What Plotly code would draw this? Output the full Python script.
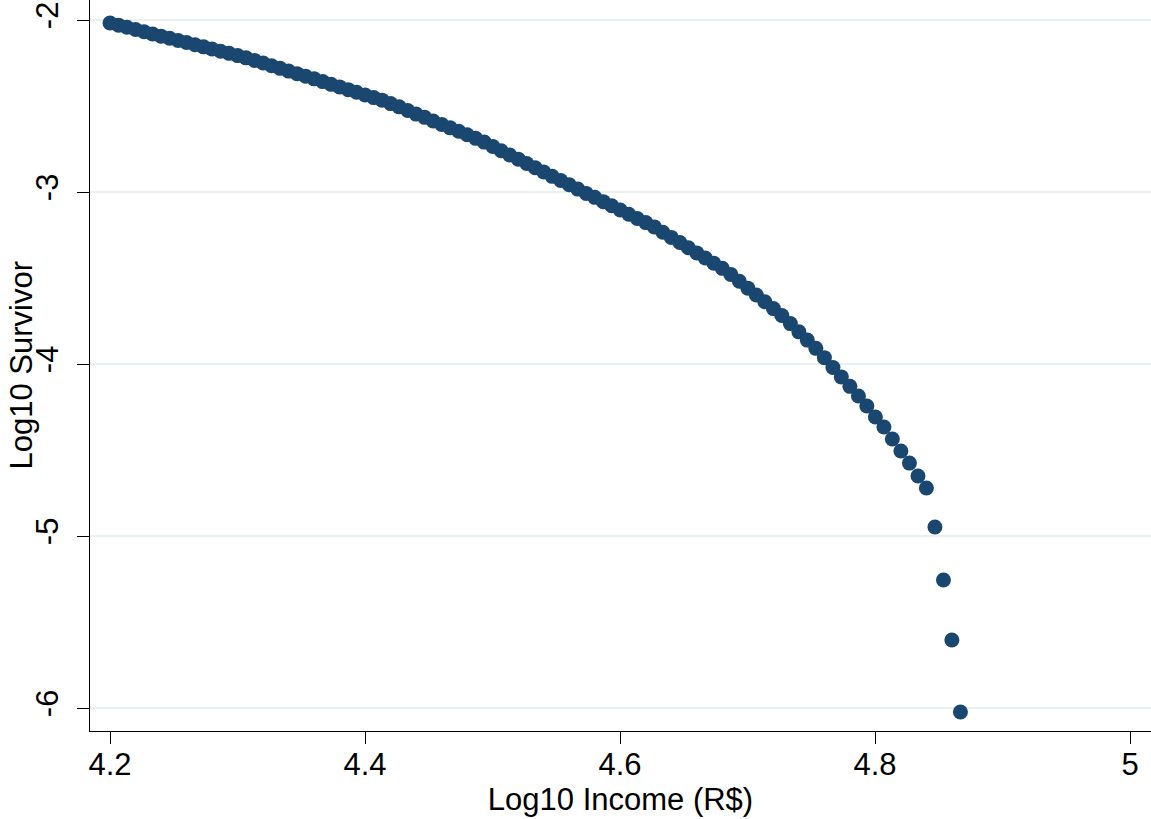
import plotly.graph_objects as go

# Log10 income (R$) for each point
log_income = [round(4.2 + 0.00667 * i, 4) for i in range(101)]

# Log10 survivor values
log_survivor = [
    -2.017, -2.030, -2.042, -2.055, -2.068, -2.081, -2.094, -2.106, -2.119, -2.131,
    -2.144, -2.156, -2.169, -2.182, -2.194, -2.207, -2.220, -2.235, -2.250, -2.266,
    -2.281, -2.297, -2.312, -2.327, -2.342, -2.358, -2.374, -2.389, -2.405, -2.420,
    -2.436, -2.451, -2.466, -2.486, -2.505, -2.526, -2.547, -2.566, -2.587, -2.607,
    -2.627, -2.647, -2.667, -2.688, -2.710, -2.735, -2.760, -2.785, -2.809, -2.834,
    -2.859, -2.884, -2.909, -2.933, -2.958, -2.983, -3.008, -3.031, -3.056, -3.080,
    -3.105, -3.129, -3.154, -3.178, -3.203, -3.234, -3.264, -3.294, -3.324, -3.354,
    -3.384, -3.414, -3.444, -3.479, -3.519, -3.559, -3.599, -3.638, -3.678, -3.718,
    -3.765, -3.813, -3.861, -3.909, -3.963, -4.020, -4.075, -4.130, -4.186, -4.244,
    -4.308, -4.366, -4.436, -4.506, -4.576, -4.651, -4.721, -4.948, -5.256, -5.605,
    -6.023,
]

x_ticks = [4.2, 4.4, 4.6, 4.8, 5]
x_tick_labels = ["4.2", "4.4", "4.6", "4.8", "5"]
y_ticks = [-6, -5, -4, -3, -2]
y_tick_labels = ["-6", "-5", "-4", "-3", "-2"]

FONT = "Liberation Sans, Arial, Helvetica, sans-serif"
FS = 31

fig = go.Figure(
    go.Scatter(
        x=log_income,
        y=log_survivor,
        mode="markers",
        marker=dict(color="#1a476f", size=15, line=dict(width=0)),
        showlegend=False,
    )
)

fig.update_layout(
    width=1151,
    height=819,
    margin=dict(l=90, r=0, t=0, b=88, autoexpand=False),
    paper_bgcolor="white",
    plot_bgcolor="white",
    font=dict(family=FONT, size=FS, color="black"),
    annotations=[
        dict(
            text="Log10 Survivor",
            textangle=-90,
            xref="paper",
            yref="paper",
            x=(21 - 90) / 1061,
            y=0.5,
            xanchor="center",
            yanchor="middle",
            showarrow=False,
            font=dict(size=FS),
        )
    ],
)

fig.update_xaxes(
    range=[4.18431, 5.01647],
    tickvals=x_ticks,
    ticktext=x_tick_labels,
    ticks="outside",
    ticklen=12,
    tickwidth=1.3,
    tickcolor="black",
    ticklabelstandoff=-6,
    showline=True,
    linecolor="black",
    linewidth=1.3,
    showgrid=False,
    zeroline=False,
    tickfont=dict(size=FS),
    title=dict(text="Log10 Income (R$)", font=dict(size=FS), standoff=6),
)

fig.update_yaxes(
    range=[-6.1337, -1.8837],
    tickvals=y_ticks,
    ticktext=y_tick_labels,
    tickangle=-90,
    ticks="outside",
    ticklen=12,
    tickwidth=1.3,
    tickcolor="black",
    ticklabelstandoff=6,
    showline=True,
    linecolor="black",
    linewidth=1.3,
    showgrid=True,
    gridcolor="#e8f0f2",
    gridwidth=1.5,
    zeroline=False,
    tickfont=dict(size=FS),
)

fig.write_html(
    "out.html",
    config={"displayModeBar": False},
    post_script="document.body.style.margin='0';document.body.style.overflow='hidden';",
)
